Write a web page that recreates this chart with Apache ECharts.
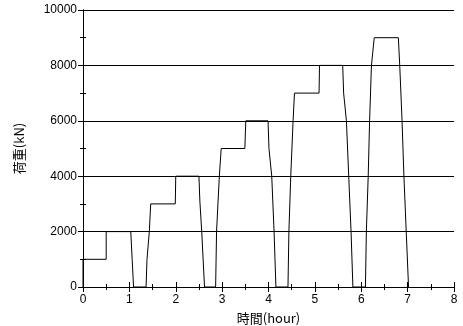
<!DOCTYPE html>
<html>
<head>
<meta charset="utf-8">
<script src="https://cdn.jsdelivr.net/npm/echarts@6/dist/echarts.min.js"></script>
<style>
  html, body { margin: 0; padding: 0; background: #fff; }
  #chart { width: 463px; height: 326px; }
</style>
</head>
<body>
<div id="chart"></div>
<script>
// load history: time (hour) and load (kN)
const hours = [
  0, 0, 0.5, 0.5, 1.03, 1.06, 1.09, 1.36, 1.38, 1.43, 1.46,
  1.99, 2.0, 2.5, 2.52, 2.56, 2.62, 2.86, 2.88, 2.94, 2.98,
  3.49, 3.51, 3.99, 4.01, 4.03, 4.07, 4.12, 4.16, 4.42, 4.44, 4.48, 4.53, 4.56,
  5.09, 5.10, 5.60, 5.62, 5.64, 5.68, 5.73, 5.78, 5.82,
  6.09, 6.11, 6.15, 6.18, 6.22, 6.28, 6.80, 6.83, 6.88, 6.92, 6.97, 7.02
]
const loads = [
  0, 1000, 1000, 2000, 2000, 1000, 0, 0, 1000, 2000, 3000,
  3000, 4000, 4000, 3100, 2000, 0, 0, 2000, 4000, 5000,
  5000, 6000, 6000, 5000, 4950, 4000, 2000, 0, 0, 2000, 4000, 6000, 7000,
  7000, 8000, 8000, 7000, 6950, 6000, 4000, 2000, 0,
  0, 2000, 4000, 6000, 8000, 9000, 9000, 8000, 6000, 4000, 2000, 0
]
const xTicks = ['0', '1', '2', '3', '4', '5', '6', '7', '8']
const yTicks = ['0', '2000', '4000', '6000', '8000', '10000']

const chart = echarts.init(document.getElementById('chart'), null, { renderer: 'canvas' })

const tickFont = { color: '#000', fontSize: 12, fontFamily: 'Liberation Sans, Arial, sans-serif' }
const nameFont = { color: '#000', fontSize: 13, fontFamily: 'Noto Sans CJK JP, sans-serif' }
const frameAxis = {
  axisLine: { show: true, lineStyle: { color: '#000', width: 1 } },
  axisTick: { show: true, inside: true, length: 5, lineStyle: { color: '#000' } },
  minorTick: { show: true, splitNumber: 2, length: 3, lineStyle: { color: '#000' } },
}

chart.setOption({
  animation: false,
  grid: { left: 83, right: 9, top: 10, bottom: 39, outerBoundsMode: 'none' },
  xAxis: [
    {
      type: 'value', min: 0, max: 8, interval: 1, position: 'bottom',
      name: '時間(hour)', nameLocation: 'middle', nameGap: 25,
      nameTextStyle: nameFont,
      ...frameAxis,
      axisLabel: { ...tickFont, margin: 7, formatter: v => xTicks[v] },
      splitLine: { show: false },
    },
    {
      type: 'value', min: 0, max: 8, interval: 1, position: 'top',
      ...frameAxis,
      axisLabel: { show: false },
      splitLine: { show: false },
    },
  ],
  yAxis: [
    {
      type: 'value', min: 0, max: 10000, interval: 2000, position: 'left',
      name: '荷重(kN)', nameLocation: 'middle', nameGap: 57, nameRotate: 90,
      nameTextStyle: nameFont,
      ...frameAxis,
      axisLabel: { ...tickFont, margin: 6, formatter: v => yTicks[v / 2000] },
      splitLine: { show: true, lineStyle: { color: '#000', width: 1 } },
    },
    {
      type: 'value', min: 0, max: 10000, interval: 2000, position: 'right',
      ...frameAxis,
      axisLabel: { show: false },
      splitLine: { show: false },
    },
  ],
  series: [
    {
      type: 'line',
      data: hours.map((h, i) => [h, loads[i]]),
      showSymbol: false,
      lineStyle: { color: '#000', width: 1 },
      z: 5,
    },
  ],
})
</script>
</body>
</html>
